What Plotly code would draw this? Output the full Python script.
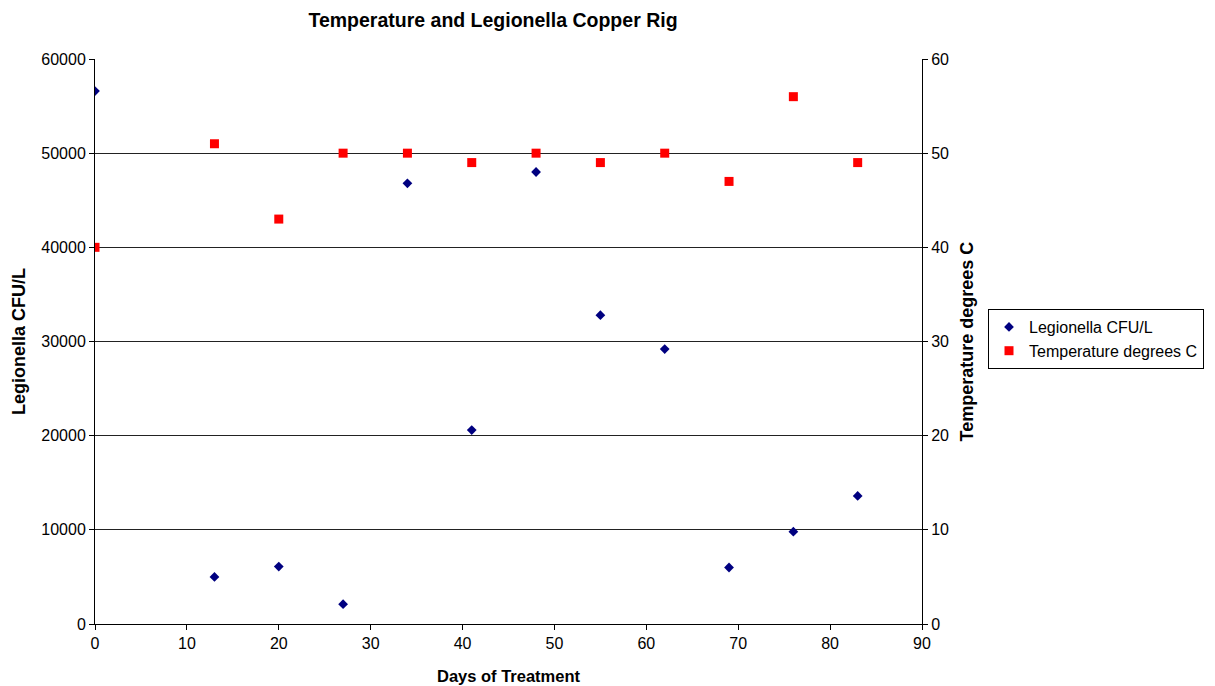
import plotly.graph_objects as go

days = [0, 13, 20, 27, 34, 41, 48, 55, 62, 69, 76, 83]
legionella = [56600, 5000, 6100, 2100, 46800, 20600, 48000, 32800, 29200, 6000, 9800, 13600]
temperature = [40, 51, 43, 50, 50, 49, 50, 49, 50, 47, 56, 49]

FONT = "Liberation Sans, Arial, sans-serif"

fig = go.Figure()
fig.add_trace(go.Scatter(
    x=days, y=legionella, mode="markers", name="Legionella CFU/L",
    marker=dict(symbol="diamond", size=7.5, color="#000080"),
    yaxis="y",
))
fig.add_trace(go.Scatter(
    x=days, y=temperature, mode="markers", name="Temperature degrees C",
    marker=dict(symbol="square", size=9, color="#FF0000"),
    yaxis="y2",
))

axis_common = dict(
    showline=True, linecolor="black", linewidth=1,
    ticks="outside", ticklen=5, tickcolor="black",
    tickfont=dict(family=FONT, size=16, color="black"),
    zeroline=False, automargin=False,
)

fig.update_layout(
    width=1215, height=686,
    paper_bgcolor="white", plot_bgcolor="white",
    margin=dict(l=95, r=293, t=59, b=62, autoexpand=False),
    title=dict(
        text="<b>Temperature and Legionella Copper Rig</b>",
        font=dict(family=FONT, size=19.5, color="black"),
        x=493 / 1215, xanchor="center", y=1 - 20 / 686, yanchor="middle",
    ),
    xaxis=dict(
        range=[0, 90], dtick=10, showgrid=False,
        title=dict(text="<b>Days of Treatment</b>", font=dict(family=FONT, size=16.5, color="black"), standoff=19),
        **axis_common,
    ),
    yaxis=dict(
        range=[0, 60000], dtick=10000, tickformat="d", showgrid=True, gridcolor="#222222", gridwidth=1,
        title=dict(text="<b>Legionella CFU/L</b>", font=dict(family=FONT, size=18, color="black"), standoff=10),
        **axis_common,
    ),
    yaxis2=dict(
        range=[0, 60], dtick=10, overlaying="y", side="right", showgrid=False,
        title=dict(text="<b>Temperature degrees C</b>", font=dict(family=FONT, size=18, color="black"), standoff=12),
        **axis_common,
    ),
    legend=dict(
        x=(1204 - 95) / 827, xanchor="right", y=(624 - 339) / 565, yanchor="middle",
        bordercolor="black", borderwidth=1, bgcolor="white",
        font=dict(family=FONT, size=16, color="black"),
        itemwidth=30, tracegroupgap=0,
    ),
    showlegend=True,
)

fig.write_html("out.html")
